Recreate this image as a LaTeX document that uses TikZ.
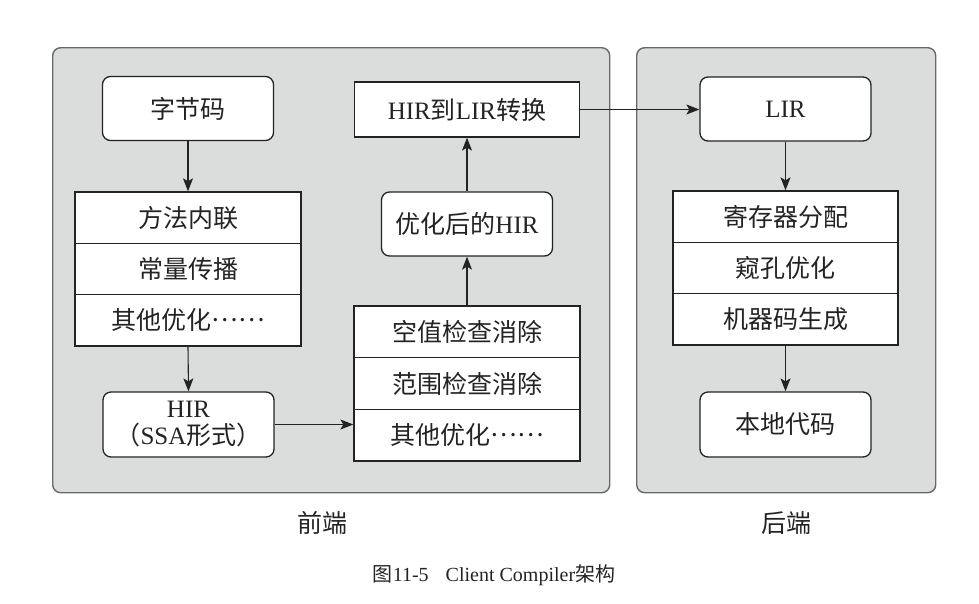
\documentclass[tikz,border=0pt]{standalone}
\usepackage{fontspec}
\setmainfont{Liberation Serif}
\newfontfamily\cjk{Noto Sans CJK SC}
\usetikzlibrary{arrows.meta}
\newcommand{\zh}[1]{{\cjk #1}}
\newcommand{\dotsz}{\raisebox{0.32em}{\zh{……}}}
\definecolor{panelfill}{RGB}{219,221,221}
\definecolor{panelline}{RGB}{105,105,105}
\definecolor{ink}{RGB}{35,35,35}
\begin{document}
\begin{tikzpicture}[x=1pt,y=-1pt,
  panel/.style={draw=panelline,fill=panelfill,line width=1.4pt,rounded corners=8pt},
  rbox/.style={draw=ink,fill=white,line width=1.3pt,rounded corners=8pt,inner sep=0pt,
    minimum width=171pt,minimum height=64pt,text=ink,font=\fontsize{25}{30}\selectfont,align=center},
  sbox/.style={draw=ink,fill=white,line width=1.3pt,inner sep=0pt,
    minimum width=226pt,minimum height=51.5pt,text=ink,font=\fontsize{25}{30}\selectfont},
  arr/.style={draw=ink,line width=1.1pt,-{Stealth[length=13pt,width=10pt,inset=3pt]}},
  lbl/.style={text=ink,font=\fontsize{25}{30}\selectfont,inner sep=0pt}
]
\useasboundingbox (0,0) rectangle (979,603);
% panels
\node[panel,minimum width=557pt,minimum height=445pt,anchor=north west,inner sep=0pt] (front) at (52,47) {};
\node[panel,minimum width=299pt,minimum height=445pt,anchor=north west,inner sep=0pt] (back) at (636,47) {};
% front left column
\node[rbox] (byte) at (188,108.5) {\zh{字节码}};
\node[sbox] (inl) at (188,217.7) {\zh{方法内联}};
\node[sbox] (cp) at (188,269) {\zh{常量传播}};
\node[sbox] (oth1) at (188,320.3) {\zh{其他优化}\dotsz};
\node[rbox,minimum height=65pt] (hir) at (188.5,424.5) {HIR\\[-3pt]\zh{（}SSA\zh{形式）}};
% front right column
\node[sbox] (nce) at (467,331.8) {\zh{空值检查消除}};
\node[sbox] (rce) at (467,383.5) {\zh{范围检查消除}};
\node[sbox] (oth2) at (467,435.2) {\zh{其他优化}\dotsz};
\node[rbox] (ohir) at (467,224) {\zh{优化后的}HIR};
\node[sbox,minimum height=55pt,minimum width=225pt] (h2l) at (467,109.5) {HIR\zh{到}LIR\zh{转换}};
% back column
\node[rbox] (lir) at (785.5,109) {LIR};
\node[sbox,minimum width=225pt] (reg) at (785.5,216.7) {\zh{寄存器分配}};
\node[sbox,minimum width=225pt] (peep) at (785.5,268) {\zh{窥孔优化}};
\node[sbox,minimum width=225pt] (mcg) at (785.5,319.3) {\zh{机器码生成}};
\node[rbox,minimum height=65pt] (nat) at (785.5,424.5) {\zh{本地代码}};
% labels
\node[lbl] (fl) at (322,523) {\zh{前端}};
\node[lbl] (bl) at (786,523) {\zh{后端}};
\node[text=ink,inner sep=0pt,font=\fontsize{20}{24}\selectfont] (cap) at (494,575) {\zh{图}11-5\hspace{0.85em}Client Compiler\zh{架构}};
% arrows
\draw[arr] (byte.south) -- (inl.north);
\draw[arr] (oth1.south) -- (hir.north);
\draw[arr] (hir.east) -- (hir.east -| oth2.west);
\draw[arr] (nce.north) -- (ohir.south);
\draw[arr] (ohir.north) -- (h2l.south);
\draw[arr] (h2l.east) -- (h2l.east -| lir.west);
\draw[arr] (lir.south) -- (reg.north);
\draw[arr] (mcg.south) -- (nat.north);
\end{tikzpicture}
\end{document}
